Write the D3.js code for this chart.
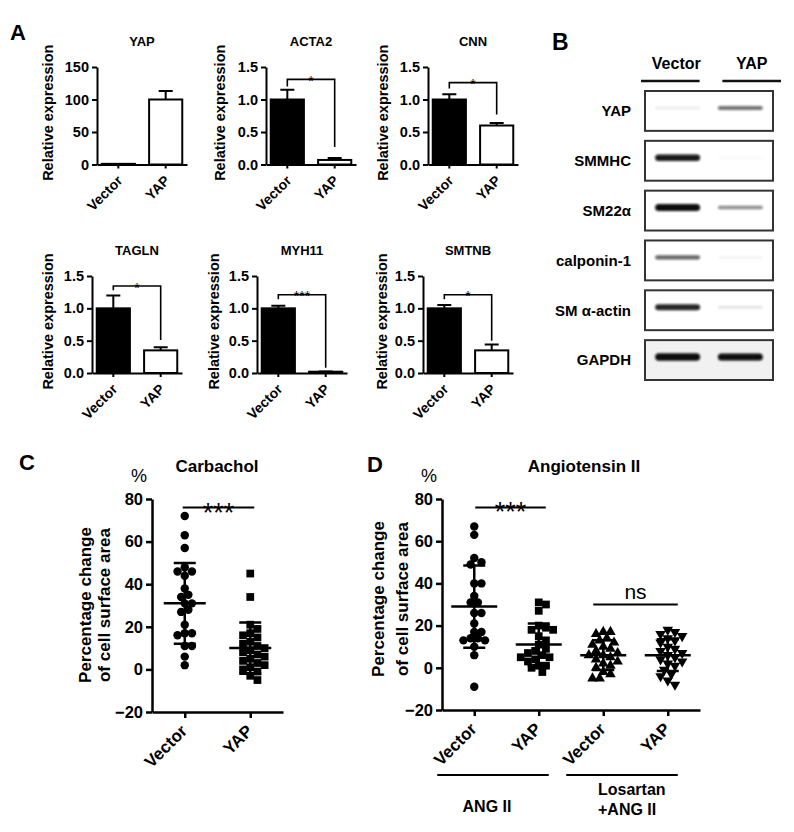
<!DOCTYPE html>
<html>
<head>
<meta charset="utf-8">
<script src="https://cdn.jsdelivr.net/npm/d3@7"></script>
<style>
  body { margin: 0; background: #fff; }
</style>
</head>
<body>
<svg id="fig" width="794" height="832"></svg>
<script>
// ---- data ----
const groups = ['Vector', 'YAP'];

// A: qPCR, relative expression (mean, sem)
const qpcrGenes = ['YAP', 'ACTA2', 'CNN', 'TAGLN', 'MYH11', 'SMTNB'];
const qpcrMean = [[1, 100], [1.0, 0.07], [1.0, 0.6], [1.0, 0.35], [1.0, 0.02], [1.0, 0.35]];
const qpcrSem = [[0, 13], [0.15, 0.03], [0.08, 0.04], [0.2, 0.05], [0.04, 0.005], [0.05, 0.09]];
const qpcrMax = [150, 1.5, 1.5, 1.5, 1.5, 1.5];
const qpcrTicks = [[0, 50, 100, 150], [0, 0.5, 1, 1.5], [0, 0.5, 1, 1.5], [0, 0.5, 1, 1.5], [0, 0.5, 1, 1.5], [0, 0.5, 1, 1.5]];
// significance bracket: label, bracket level, left leg end, right leg end
const qpcrSig = [
  null,
  { label: '*', level: 1.31, left: 1.2, right: 0.27 },
  { label: '*', level: 1.26, left: 1.17, right: 0.77 },
  { label: '*', level: 1.345, left: 1.28, right: 0.51 },
  { label: '***', level: 1.21, left: 1.14, right: 0.08 },
  { label: '*', level: 1.21, left: 1.14, right: 0.5 }
];

// B: western blot, band intensity per lane (Vector, YAP)
const blotProteins = ['YAP', 'SMMHC', 'SM22α', 'calponin-1', 'SM α-actin', 'GAPDH'];
const blotIntensity = [[0.08, 0.55], [0.9, 0.02], [0.95, 0.45], [0.6, 0.05], [0.85, 0.12], [1.0, 0.95]];

// C: carbachol, percentage change of cell surface area
const cellTicks = [-20, 0, 20, 40, 60, 80];
const carbVector = [72, 63, 57, 48, 46, 46, 44, 38, 35, 34, 31, 31, 28, 27, 21, 17, 17, 16, 11, 11, 6, 2];
const carbYap = [45, 34, 21, 19, 17, 16, 15, 13, 12, 11, 10, 9, 8, 7, 6, 5, 4, 3, 2, 1, 0, -1, -3, -5];
const carbMean = [31, 10];
const carbSd = [19, 12];

// D: angiotensin II
const angKeys = ['ang-vector', 'ang-yap', 'los-vector', 'los-yap'];
const angLabels = ['Vector', 'YAP', 'Vector', 'YAP'];
const angVector = [67, 63, 52, 50, 49, 40, 40, 34, 31, 31, 26, 26, 21, 17, 17, 13, 13, 14, 14, 10, 6, -9];
const angYap = [31, 30, 27, 20, 19, 18, 18, 15, 13, 11, 9, 8, 7, 6, 5, 5, 4, 3, 1, 1, 0, -2];
const losVector = [17, 17, 16, 14, 13, 12, 11, 10, 9, 8, 7, 6, 6, 5, 4, 3, 2, 1, 0, -2, -3, -5, -5];
const losYap = [18, 17, 16, 15, 14, 13, 12, 10, 9, 8, 7, 6, 5, 4, 3, 2, 1, -1, -3, -4, -6, -8];
const angMean = [29, 11, 6, 6];
const angSd = [19.5, 10, 7, 7.5];

// ---- drawing ----
const FONT = "'Liberation Sans', Arial, Helvetica, sans-serif";
const svg = d3.select('#fig').attr('font-family', FONT);

svg.append('defs').append('filter').attr('id', 'blur')
  .attr('x', '-20%').attr('y', '-100%').attr('width', '140%').attr('height', '300%')
  .append('feGaussianBlur').attr('stdDeviation', 1.2);

function styleAxis(sel, width, size) {
  sel.attr('font-family', FONT).attr('font-size', size).attr('font-weight', 'bold');
  sel.select('.domain').attr('stroke', '#000').attr('stroke-width', width);
  sel.selectAll('.tick line').attr('stroke', '#000').attr('stroke-width', width);
  sel.selectAll('.tick text').attr('fill', '#000');
}

// panel letters
[['A', 10, 40, 22], ['B', 552, 50, 23], ['C', 19, 470, 22], ['D', 367, 472, 22]].forEach(([t, x, y, s]) => {
  svg.append('text').attr('x', x).attr('y', y).attr('font-size', s).attr('font-weight', 'bold').text(t);
});

// ---- A ----
const aFrames = [
  { x: 97, top: 67, zero: 164.5, labelOff: 49 },
  { x: 266, top: 67, zero: 164.5, labelOff: 46 },
  { x: 428, top: 67, zero: 164.5, labelOff: 45 },
  { x: 92, top: 276, zero: 373, labelOff: 44 },
  { x: 257, top: 276, zero: 373, labelOff: 43 },
  { x: 423, top: 276, zero: 373, labelOff: 41 }
];

qpcrGenes.forEach((gene, gi) => {
  const f = aFrames[gi];
  const g = svg.append('g');
  const y = d3.scaleLinear().domain([0, qpcrMax[gi]]).range([f.zero, f.top]);
  const x = d3.scaleBand().domain(groups).range([f.x, f.x + 90]).paddingInner(0.3).paddingOuter(0.1);
  const cx = d => x(d) + x.bandwidth() / 2;

  g.selectAll('rect.bar').data(groups).join('rect')
    .attr('class', 'bar')
    .attr('x', d => x(d))
    .attr('width', x.bandwidth())
    .attr('y', (d, i) => y(qpcrMean[gi][i]))
    .attr('height', (d, i) => y(0) - y(qpcrMean[gi][i]))
    .attr('fill', (d, i) => (i === 0 ? '#000' : '#fff'))
    .attr('stroke', '#000')
    .attr('stroke-width', 2);

  // upper error bars
  groups.forEach((d, i) => {
    const s = qpcrSem[gi][i];
    if (!s) return;
    const top = y(qpcrMean[gi][i] + s);
    g.append('path')
      .attr('d', `M${cx(d)},${y(qpcrMean[gi][i])}V${top}M${cx(d) - 7},${top}H${cx(d) + 7}`)
      .attr('stroke', '#000').attr('stroke-width', 2).attr('fill', 'none');
  });

  const yAxis = d3.axisLeft(y).tickValues(qpcrTicks[gi]).tickSize(5).tickSizeOuter(0).tickPadding(3)
    .tickFormat(gi === 0 ? d3.format('d') : d3.format('.1f'));
  g.append('g').attr('transform', `translate(${f.x},0)`).call(yAxis).call(styleAxis, 2, 14.5);

  const xAxis = d3.axisBottom(x).tickSize(4).tickSizeOuter(0);
  const xg = g.append('g').attr('transform', `translate(0,${f.zero})`).call(xAxis).call(styleAxis, 2, 14);
  xg.selectAll('.tick text')
    .attr('x', 0).attr('y', 0).attr('dy', 0)
    .attr('text-anchor', 'end')
    .attr('transform', 'translate(5,17) rotate(-45)');

  g.append('text')
    .attr('x', f.x + 45).attr('y', f.top - 21)
    .attr('text-anchor', 'middle').attr('font-size', 13).attr('font-weight', 'bold')
    .text(gene);

  g.append('text')
    .attr('transform', `translate(${f.x - f.labelOff},${(f.top + f.zero) / 2 - 3}) rotate(-90)`)
    .attr('dy', '0.35em')
    .attr('text-anchor', 'middle').attr('font-size', 14.5).attr('font-weight', 'bold')
    .text('Relative expression');

  const sig = qpcrSig[gi];
  if (sig) {
    const x0 = cx(groups[0]), x1 = cx(groups[1]);
    g.append('path')
      .attr('d', `M${x0},${y(sig.left)}V${y(sig.level)}H${x1}V${y(sig.right)}`)
      .attr('stroke', '#000').attr('stroke-width', 1.6).attr('fill', 'none');
    g.append('text')
      .attr('x', (x0 + x1) / 2).attr('y', y(sig.level) + 6.5)
      .attr('text-anchor', 'middle').attr('font-size', 14)
      .text(sig.label);
  }
});

// ---- B ----
const gb = svg.append('g');
const lane = d3.scaleBand().domain(groups).range([645, 773]).paddingInner(0.06).paddingOuter(0.05);
const header = d3.scaleBand().domain(groups).range([641, 781]).paddingInner(0.28);
const rows = d3.scaleBand().domain(blotProteins).range([91, 380]).paddingInner(0.2);

gb.selectAll('line.head').data(groups).join('line')
  .attr('x1', d => header(d)).attr('x2', d => header(d) + header.bandwidth())
  .attr('y1', 81).attr('y2', 81)
  .attr('stroke', '#111').attr('stroke-width', 2.5);
gb.selectAll('text.head').data(groups).join('text')
  .attr('x', (d, i) => header(d) + header.bandwidth() / 2 + (i === 0 ? 6 : 0))
  .attr('y', 69)
  .attr('text-anchor', 'middle').attr('font-size', 16).attr('font-weight', 'bold')
  .text(d => d);

blotProteins.forEach((p, pi) => {
  const y0 = rows(p), h = rows.bandwidth(), mid = y0 + h / 2 - 3;
  gb.append('rect')
    .attr('x', 645).attr('y', y0).attr('width', 128).attr('height', h)
    .attr('fill', p === 'GAPDH' ? '#f1f1f1' : '#fff')
    .attr('stroke', '#333').attr('stroke-width', 2);
  groups.forEach((gname, li) => {
    const v = blotIntensity[pi][li];
    const bh = 2.5 + 5 * v * v;
    gb.append('rect')
      .attr('x', lane(gname) + 7).attr('width', lane.bandwidth() - 14)
      .attr('y', mid - bh / 2).attr('height', bh)
      .attr('rx', bh / 2)
      .attr('fill', '#0d0d0d').attr('opacity', Math.min(1, v * 1.05))
      .attr('filter', 'url(#blur)');
  });
  gb.append('text')
    .attr('x', 631).attr('y', y0 + h / 2).attr('dy', '0.36em')
    .attr('text-anchor', 'end').attr('font-size', 15).attr('font-weight', 'bold')
    .text(p);
});

// ---- C / D dot plots ----
const symbols = {
  circle: d3.symbol(d3.symbolCircle, 56),
  square: d3.symbol(d3.symbolSquare, 60),
  triangle: d3.symbol(d3.symbolTriangle, 48)
};

function swarm(values, y, diam) {
  const placed = [];
  const out = new Array(values.length);
  values.map((v, i) => ({ v, i })).sort((a, b) => b.v - a.v).forEach(d => {
    const py = y(d.v);
    let off = 0;
    for (let k = 0; k < 60; k++) {
      const o = (k % 2 ? 1 : -1) * Math.ceil(k / 2) * diam / 2;
      if (placed.every(p => Math.hypot(p.x - o, p.y - py) >= diam)) { off = o; break; }
    }
    placed.push({ x: off, y: py });
    out[d.i] = { x: off, y: py };
  });
  return out;
}

function dotPlot(cfg) {
  const g = svg.append('g');
  const y = d3.scaleLinear().domain([-20, 80]).range([cfg.bottom, cfg.top]);
  const x = d3.scalePoint().domain(cfg.keys).range([cfg.left, cfg.right]).padding(0.5);

  g.append('g').attr('transform', `translate(${cfg.left},0)`)
    .call(d3.axisLeft(y).tickValues(cellTicks).tickSize(6).tickSizeOuter(0).tickPadding(3))
    .call(styleAxis, 2.5, 16.5);
  const xg = g.append('g').attr('transform', `translate(0,${cfg.bottom})`)
    .call(d3.axisBottom(x).tickSize(6).tickSizeOuter(0).tickFormat((d, i) => cfg.labels[i]))
    .call(styleAxis, 2.5, 17);
  xg.selectAll('.tick text')
    .attr('x', 0).attr('y', 0).attr('dy', 0)
    .attr('text-anchor', 'end')
    .attr('transform', 'translate(3,20) rotate(-45)');

  cfg.keys.forEach((k, i) => {
    const pts = swarm(cfg.values[i], y, 7.2);
    const cx = x(k);
    g.append('g').selectAll('path').data(pts).join('path')
      .attr('d', symbols[cfg.shapes[i]])
      .attr('transform', d => `translate(${cx + d.x},${d.y})${cfg.flip[i] ? ' rotate(180)' : ''}`)
      .attr('fill', '#000');
    const m = cfg.means[i], s = cfg.sds[i];
    g.append('path')
      .attr('d', `M${cx - cfg.meanW / 2},${y(m)}H${cx + cfg.meanW / 2}` +
        `M${cx},${y(m - s)}V${y(m + s)}` +
        `M${cx - 11},${y(m + s)}H${cx + 11}M${cx - 11},${y(m - s)}H${cx + 11}`)
      .attr('stroke', '#000').attr('stroke-width', 2.5).attr('fill', 'none');
  });

  cfg.sig.forEach(s => {
    const x0 = x(s.from) - s.padL, x1 = x(s.to) + s.padR;
    const isNs = s.label === 'ns';
    g.append('line').attr('x1', x0).attr('x2', x1).attr('y1', y(s.level)).attr('y2', y(s.level))
      .attr('stroke', '#000').attr('stroke-width', 2);
    g.append('text').attr('x', (x0 + x1) / 2).attr('y', y(s.level) + (isNs ? -6 : 14))
      .attr('text-anchor', 'middle').attr('font-size', isNs ? 21 : 27)
      .text(s.label);
  });

  g.append('text').attr('x', cfg.titleX).attr('y', cfg.top - 27)
    .attr('text-anchor', 'middle').attr('font-size', 17).attr('font-weight', 'bold').text(cfg.title);
  g.append('text').attr('x', cfg.left - 13).attr('y', cfg.top - 17)
    .attr('text-anchor', 'middle').attr('font-size', 18).text('%');

  ['Percentage change', 'of cell surface area'].forEach((t, li) => {
    g.append('text')
      .attr('transform', `translate(${cfg.labelX[li]},${cfg.labelY}) rotate(-90)`)
      .attr('dy', '0.35em').attr('text-anchor', 'middle')
      .attr('font-size', 17).attr('font-weight', 'bold').text(t);
  });
  return { g, x, y };
}

dotPlot({
  left: 152, right: 283, top: 499, bottom: 712,
  keys: groups, labels: groups,
  values: [carbVector, carbYap], shapes: ['circle', 'square'], flip: [false, false],
  means: carbMean, sds: carbSd, meanW: 42,
  sig: [{ from: 'Vector', to: 'YAP', level: 76, label: '***', padL: 2, padR: 4 }],
  title: 'Carbachol', titleX: 217, labelX: [85, 104], labelY: 605
});

const dPlot = dotPlot({
  left: 442, right: 700, top: 499, bottom: 710,
  keys: angKeys, labels: angLabels,
  values: [angVector, angYap, losVector, losYap],
  shapes: ['circle', 'square', 'triangle', 'triangle'], flip: [false, false, false, true],
  means: angMean, sds: angSd, meanW: 46,
  sig: [
    { from: 'ang-vector', to: 'ang-yap', level: 76, label: '***', padL: -1, padR: 7 },
    { from: 'los-vector', to: 'los-yap', level: 30, label: 'ns', padL: 10, padR: 10 }
  ],
  title: 'Angiotensin II', titleX: 584, labelX: [378, 402], labelY: 599
});

// treatment group lines under D
const treatGroups = [
  { name: ['ANG II'], keys: ['ang-vector', 'ang-yap'] },
  { name: ['Losartan', '+ANG II'], keys: ['los-vector', 'los-yap'] }
];
treatGroups.forEach(tg => {
  const x0 = dPlot.x(tg.keys[0]) - 37, x1 = dPlot.x(tg.keys[1]) + 10;
  dPlot.g.append('line').attr('x1', x0).attr('x2', x1).attr('y1', 775).attr('y2', 775)
    .attr('stroke', '#000').attr('stroke-width', 2);
  if (tg.name.length === 1) {
    dPlot.g.append('text').attr('x', (x0 + x1) / 2 - 6).attr('y', 812)
      .attr('text-anchor', 'middle').attr('font-size', 16).attr('font-weight', 'bold').text(tg.name[0]);
  } else {
    tg.name.forEach((t, i) => {
      dPlot.g.append('text').attr('x', 598).attr('y', 795 + i * 20)
        .attr('font-size', 16).attr('font-weight', 'bold').text(t);
    });
  }
});
</script>
</body>
</html>
